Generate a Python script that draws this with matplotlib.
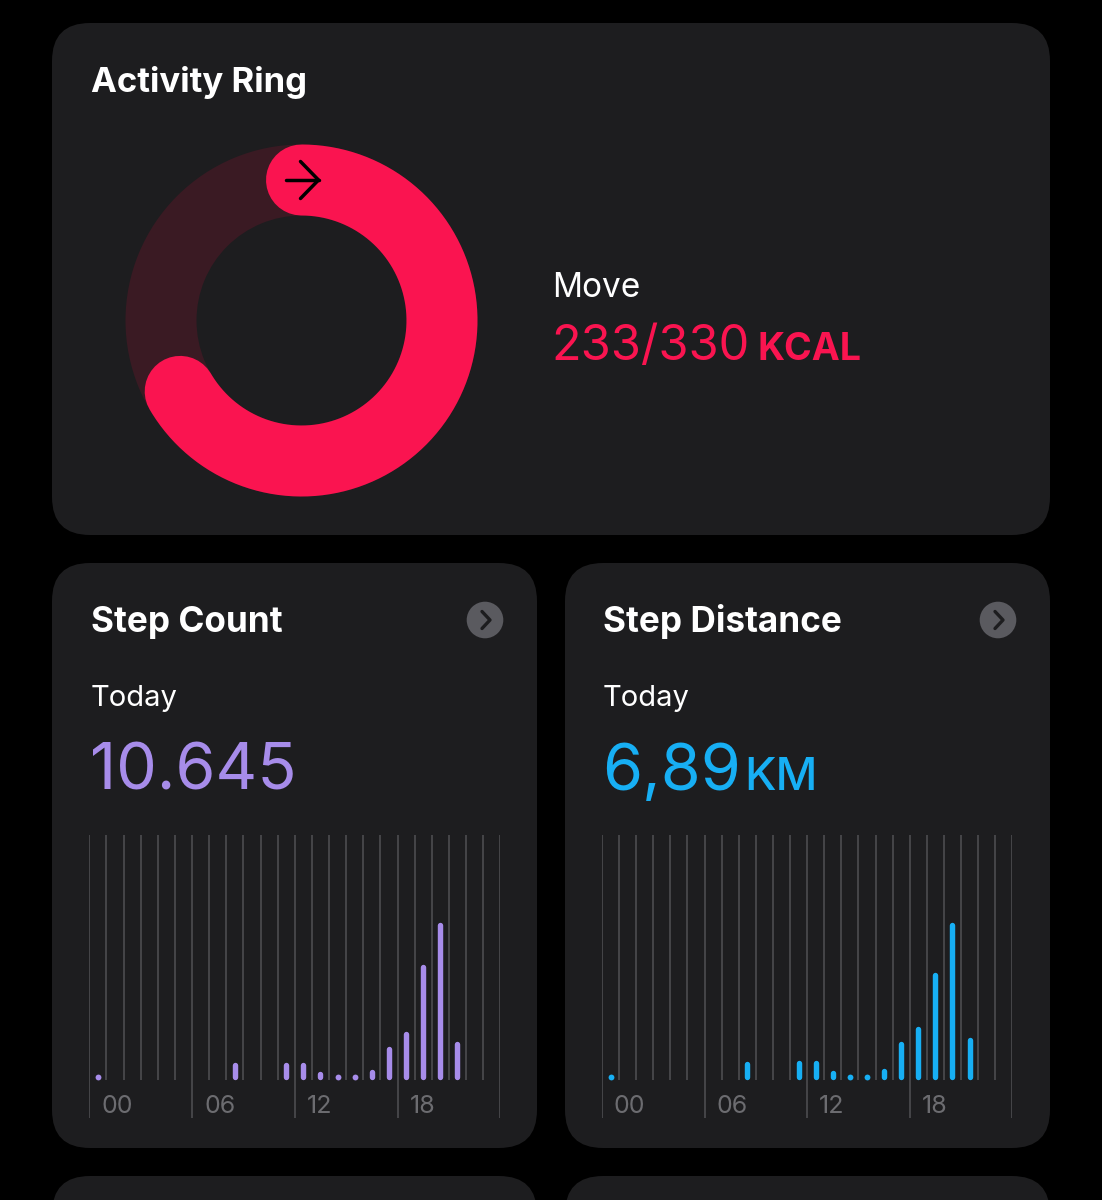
import matplotlib.pyplot as plt
import numpy as np
from matplotlib.patches import FancyBboxPatch, Wedge, Circle

plt.rcParams['font.family'] = ['Inter', 'DejaVu Sans']

# data
move_kcal = 233
move_goal = 330
hour_labels = ["00", "06", "12", "18"]
step_counts = [40, 0, 0, 0, 0, 0, 0, 0, 390, 0, 0, 405, 390, 205, 60, 60,
               235, 755, 1095, 2600, 3540, 870, 0, 0]
step_km = [0.04, 0, 0, 0, 0, 0, 0, 0, 0.27, 0, 0, 0.28, 0.28, 0.14, 0.04, 0.04,
           0.16, 0.55, 0.75, 1.52, 2.22, 0.60, 0, 0]
steps_today = "10.645"
km_today = "6,89"

CARD = "#1d1d1f"
PINK = "#fa1450"
TRACK = "#3a1a23"
PURPLE = "#a78cea"
BLUE = "#17aff4"
GRID = "#505054"
LABEL = "#6c6c70"

W, H = 1102, 1200
fig = plt.figure(figsize=(W / 100, H / 100), dpi=100)
fig.patch.set_facecolor("black")

bg = fig.add_axes([0, 0, 1, 1])
bg.set_xlim(0, W)
bg.set_ylim(H, 0)
bg.axis("off")


def card(x0, y0, x1, y1, r=38):
    bg.add_patch(FancyBboxPatch((x0, y0), x1 - x0, y1 - y0,
                                boxstyle=f"round,pad=0,rounding_size={r}",
                                fc=CARD, ec="none"))


def after(t, gap, s, y, **kw):
    # put text s right after text t
    fig.canvas.draw()
    bb = t.get_window_extent().transformed(bg.transData.inverted())
    return bg.text(bb.x1 + gap, y, s, va="baseline", **kw)


card(52, 23, 1050, 535)
card(52, 563, 537, 1148)
card(565, 563, 1050, 1148)
card(52, 1176, 537, 1260)
card(565, 1176, 1050, 1260)

# activity ring
cx, cy, R, thick = 301.5, 320.5, 140.5, 71
bg.add_patch(Wedge((cx, cy), R + thick / 2, 0, 360, width=thick, fc=TRACK, ec="none"))
cap_deg = np.degrees(thick / 2 / R)
end_deg = move_kcal / move_goal * 360 - cap_deg
a = np.radians(np.linspace(0, end_deg, 300))
bg.plot(cx + R * np.sin(a), cy - R * np.cos(a), color=PINK,
        lw=thick * 0.72, solid_capstyle="round")
# arrow on the start cap
ay = cy - R
bg.plot([cx - 16, cx + 17], [ay, ay], color="black", lw=2.5, solid_capstyle="round")
bg.plot([cx - 1, cx + 17, cx - 1], [ay - 18.5, ay, ay + 18.5], color="black", lw=2.5,
        solid_capstyle="round", solid_joinstyle="round")

bg.text(91, 92, "Activity Ring", color="white", fontsize=25, fontweight="bold", va="baseline")
bg.text(552, 297, "Move", color="white", fontsize=24, va="baseline")
t = bg.text(551, 360, f"{move_kcal}/{move_goal}", color=PINK, fontsize=35, va="baseline")
after(t, 8, "KCAL", 360, color=PINK, fontsize=27, fontweight="bold")


def header(x0, title, big, unit, color):
    bg.text(x0, 632, title, color="white", fontsize=25.3, fontweight="bold", va="baseline")
    bg.text(x0, 706.5, "Today", color="white", fontsize=21, va="baseline")
    t = bg.text(x0 - 1, 790, big, color=color, fontsize=46.5, va="baseline")
    if unit:
        after(t, 3, unit, 790, color=color, fontsize=33, fontweight="medium")


def chevron(x, y):
    bg.add_patch(Circle((x, y), 18.3, fc="#5a5a5f", ec="none"))
    bg.plot([x - 3, x + 5, x - 3], [y - 8.5, y, y + 8.5], color="#1d1d1f", lw=2.4,
            solid_capstyle="round", solid_joinstyle="round")


header(91, "Step Count", steps_today, None, PURPLE)
header(603, "Step Distance", km_today, "KM", BLUE)
chevron(485, 620)
chevron(998, 620)


def bars(x_left, x_right, values, color):
    top, bottom, base = 835, 1118, 1080
    ax = fig.add_axes([x_left / W, (H - bottom) / H, (x_right - x_left) / W, (bottom - top) / H])
    ax.set_facecolor("none")
    ax.axis("off")
    vals = np.array(values, dtype=float)
    hi = vals.max() * (base - top) / 157.5
    lo = -hi * (bottom - base) / (base - top)
    ax.set_xlim(0, 24)
    ax.set_ylim(lo, hi)
    hours = np.arange(25)
    major = hours % 6 == 0
    ax.vlines(hours[~major], 0, hi, color=GRID, lw=1.1)
    ax.vlines(hours[major], lo, hi, color=GRID, lw=1.1)
    for h, lab in zip(hours[major][:-1], hour_labels):
        ax.text(h + 0.7, lo + (hi - lo) * 0.016, lab, color=LABEL, fontsize=18, va="baseline")
    r = 2.7 * (hi - lo) / (bottom - top)
    for h, v in enumerate(vals):
        if v <= 0:
            continue
        x = h + 0.5
        if v <= 2.4 * r:
            ax.plot(x, r, "o", ms=4.2, color=color, mec="none")
        else:
            ax.plot([x, x], [r, v - r], color=color, lw=3.9, solid_capstyle="round")


bars(89.3, 500.3, step_counts, PURPLE)
bars(602, 1012.3, step_km, BLUE)

fig.savefig("out.png", dpi=100, facecolor="black")
